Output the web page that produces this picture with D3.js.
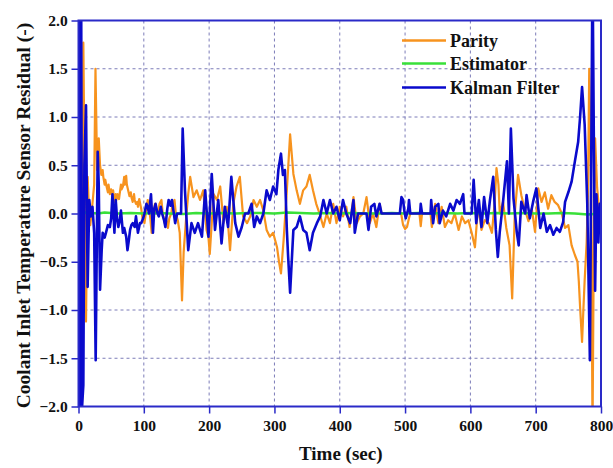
<!DOCTYPE html>
<html><head><meta charset="utf-8">
<script src="https://cdn.jsdelivr.net/npm/d3@7"></script>
<style>body{margin:0;background:#fff}svg{display:block}</style>
</head><body>
<svg id="c" width="613" height="468"></svg>
<script>
const xTicks = [0,100,200,300,400,500,600,700,800];
const yTicks = [-2.0,-1.5,-1.0,-0.5,0.0,0.5,1.0,1.5,2.0];
const seriesNames = ["Parity","Estimator","Kalman Filter"];
const seriesColors = ["#F7931E","#39E039","#0A0ACC"];

const parityTime = [1,3,5,7.4,9.5,11.5,14,16,18,20,22,24,26,28.5,31,33,35,37,38,40,41,43,45,46,48,50,52,53,55,57,58,60,62,63,65,66,68,70,71,73,74,76,78,80,81,83,85,86,88,90,91,93,96,98,101,103,106,108,110,112,114,117,119,122,124,127,129,132,134,137,139,142,144,147,149,152,155,158.5,161,165,168,171,176,181,186,191,196,199,201,204,207,212,217,222,227,232,237,242,247,252,258,263,268,273,278,283,288,293,298,304,307,310,314,319,324,329,334,339,344,349,354,359,364,369,375,380,385,390,395,400,405,410,415,421,426,431,436,441,446,451,456,461,464,494,497,500,503,506,508,522,524,526,539,541,546,551,556,561,566,571,576,582,587,592,597,602,607,612,617,622,628,633,637,640,643,645,650,655,660,664,668,673,678,683,689,694,699,704,709,714,719,724,729,734,740,745,750,755,760,764,766,768,771,773,775,778,780,782,785,787,789,791,794,797,800];
const parityValue = [-0.5,-2.3,-2.6,1.77,0.3,-1.12,0.38,0.05,-0.12,0.0,0.15,0.3,1.5,0.45,0.78,0.5,0.4,0.45,0.38,0.3,0.35,0.28,0.22,0.3,0.2,0.25,0.18,0.24,0.12,0.2,0.14,0.2,0.15,0.2,0.3,0.25,0.28,0.38,0.3,0.39,0.3,0.24,0.18,0.22,0.17,0.12,0.2,0.14,0.1,0.12,0.07,0.15,0.05,-0.05,-0.1,0.0,0.14,0.05,-0.05,-0.2,-0.05,0.1,0.0,0.03,0.1,0.14,0.0,-0.1,-0.05,-0.15,-0.05,0.0,0.1,0.14,0.0,-0.07,-0.2,-0.9,-0.4,-0.03,0.2,0.38,0.17,0.24,0.14,0.24,-0.17,-0.25,-0.42,-0.1,0.2,0.14,0.28,-0.1,0.07,-0.38,0.1,0.28,0.38,-0.03,-0.1,-0.03,0.14,0.07,0.14,0.03,-0.17,-0.24,-0.2,-0.35,-0.5,-0.62,-0.28,0.24,0.82,0.41,0.24,0.1,0.24,0.28,0.4,0.24,0.1,0.0,-0.14,0.0,-0.1,0.1,-0.1,0.07,-0.03,0.07,-0.14,0.17,-0.1,-0.03,0.0,0.17,-0.1,0.0,-0.14,0.1,0.0,0.0,-0.12,-0.16,-0.14,-0.05,0.0,0.0,-0.13,0.0,0.0,-0.14,0.1,-0.1,0.07,-0.14,-0.07,-0.1,0.0,-0.17,-0.03,-0.1,-0.07,-0.2,-0.35,0.1,-0.17,-0.07,-0.1,-0.2,0.1,0.47,0.3,0.0,0.12,-0.15,-0.33,-0.88,0.0,0.4,0.19,0.05,-0.08,0.05,-0.19,0.26,0.12,0.22,0.05,0.19,0.12,0.09,0.0,-0.15,-0.12,-0.33,-0.43,-0.5,-0.7,-0.97,-1.33,-1.0,-0.69,-0.3,0.2,1.5,0.2,-2.3,-0.3,0.78,0.27,0.05,0.0];

const estimatorTime = [0,10,20,30,40,50,60,80,100,120,140,160,180,200,220,240,260,280,300,320,340,360,380,400,420,440,460,480,500,520,540,560,580,600,620,640,660,680,700,720,740,760,770,780,790,800];
const estimatorValue = [0.0,0.01,0.005,0.0,0.01,0.005,0.0,0.005,0.0,0.005,0.0,-0.005,0.005,0.0,0.005,0.0,0.005,0.005,0.0,0.01,0.005,0.0,0.005,0.0,0.005,0.0,0.0,0.005,0.0,0.005,0.0,0.005,0.0,0.005,0.0,0.005,0.0,0.005,0.0,0.0,0.005,0.0,-0.005,-0.01,-0.005,0.0];

const kalmanTime = [0,1,2.5,4,5.5,7.4,9,11.5,14,16.5,19,21.4,24,26.3,29.4,31,33,35.5,37,40,42,45,48,50,52,55,57,59,61,63,65,68,70,73,75,77,79,81,83,86,88,91,94,96,99,101,104,106,108,111,114,116,118,121,123,126,128,131,133,136,138,141,143,146,148,151,157,159.5,163,168,173,178,183,189,194,199,204,209,214,219,224,229,234,240,245,250,255,260,265,269,273,278,283,288,293,298,303,306,310,313,316,319,321,324,329,334,339,344,349,354,359,365,370,375,380,385,390,395,400,405,410,416,421,423,428,441,444,448,453,456,461,464,492,494.5,497,499,501,503,505,506,508,523,524,526,539,540,543,546,551,553,558,563,569,574,579,584,589,591,602,605,609,613,617,621,626,630,635,639,642,645,650,656,659,662,666,671,674,678,684,686,691,696,701,707,712,717,722,727,732,737,742,745,750,755,760,765,768,771,775,779,783,785,787,789,791,793,796,798,800];
const kalmanValue = [0.0,2.6,-2.6,2.6,-2.0,-1.78,0.5,1.12,-0.76,0.14,-0.03,0.07,-0.2,-1.52,0.64,0.3,-0.79,-0.38,-0.2,-0.25,-0.2,-0.12,-0.14,-0.05,0.2,-0.2,0.14,-0.05,-0.14,-0.08,0.03,-0.2,-0.15,-0.24,-0.38,-0.28,-0.17,-0.12,-0.1,-0.14,-0.03,-0.2,-0.1,-0.1,-0.05,0.0,0.1,0.07,0.0,0.2,-0.2,0.05,0.1,0.0,-0.03,0.07,0.0,-0.07,-0.14,0.05,0.14,0.08,0.14,0.0,-0.1,0.0,0.0,0.88,0.24,-0.38,-0.1,-0.2,-0.1,-0.24,0.24,-0.24,0.41,-0.17,0.14,-0.31,0.07,-0.14,0.38,-0.1,-0.24,-0.14,0.0,0.0,0.1,-0.14,-0.03,-0.1,0.0,0.24,0.14,0.28,0.2,0.45,0.62,0.4,0.45,-0.17,-0.45,-0.82,-0.17,-0.14,-0.03,-0.17,-0.2,-0.38,-0.2,-0.1,-0.03,0.14,0.0,0.14,0.0,0.07,-0.07,0.14,0.0,-0.1,0.14,-0.2,0.0,0.0,-0.17,0.07,0.1,-0.03,0.1,0.0,0.0,0.17,0.14,0.02,-0.05,0.0,0.05,0.14,0.0,0.0,0.1,0.0,0.0,0.14,-0.1,0.07,0.1,-0.1,0.03,-0.03,0.1,0.03,0.14,0.1,0.2,0.0,0.0,0.35,-0.1,0.14,-0.14,0.17,-0.1,0.14,0.38,-0.17,-0.45,-0.19,0.12,0.54,0.0,0.88,0.16,-0.19,-0.33,0.12,0.0,0.19,-0.05,0.12,0.26,-0.15,0.0,-0.19,-0.12,-0.22,-0.15,-0.19,-0.09,0.12,0.22,0.33,0.54,0.74,1.0,1.31,0.92,0.1,-1.52,0.5,2.6,0.8,-0.8,0.2,-0.3,0.1,-0.05];

const W = 613, H = 468;
const m = {l: 78.5, r: 601, t: 20.5, b: 406.5};
const svg = d3.select("#c");
const x = d3.scaleLinear().domain([0,800]).range([m.l, m.r]);
const y = d3.scaleLinear().domain([-2,2]).range([m.b, m.t]);
const frameColor = "#2A2AC8";
const gridColor = "#7C7CB8";
const serif = "'Liberation Serif','Times New Roman',serif";

const g = svg.append("g");
g.selectAll("line.vg").data(xTicks.slice(1,-1)).join("line")
  .attr("x1", d=>x(d)).attr("x2", d=>x(d)).attr("y1", m.t).attr("y2", m.b)
  .attr("stroke", gridColor).attr("stroke-width", 1).attr("stroke-dasharray", "3,3");
g.selectAll("line.hg").data(yTicks.slice(1,-1)).join("line")
  .attr("y1", d=>y(d)).attr("y2", d=>y(d)).attr("x1", m.l).attr("x2", m.r)
  .attr("stroke", gridColor).attr("stroke-width", 1).attr("stroke-dasharray", "3,3");

svg.append("clipPath").attr("id","clip").append("rect")
  .attr("x", m.l).attr("y", m.t).attr("width", m.r-m.l).attr("height", m.b-m.t);

const line = d3.line().x(d=>x(d[0])).y(d=>y(d[1]));
const series = [
  d3.zip(parityTime, parityValue),
  d3.zip(estimatorTime, estimatorValue),
  d3.zip(kalmanTime, kalmanValue)
];
const widths = [2.2, 2.6, 2.6];
const pg = svg.append("g").attr("clip-path","url(#clip)");
series.forEach((s,i)=>{
  pg.append("path").datum(s).attr("d", line).attr("fill","none")
    .attr("stroke", seriesColors[i]).attr("stroke-width", widths[i])
    .attr("stroke-linejoin","round");
});

const xAxis = d3.axisBottom(x).tickValues(xTicks).tickFormat(d3.format("d")).tickSize(7).tickSizeOuter(0);
const yAxis = d3.axisLeft(y).tickValues(yTicks).tickFormat(d3.format(".1f")).tickSize(7).tickSizeOuter(0);
const gx = svg.append("g").attr("transform", `translate(0,${m.b})`).call(xAxis);
const gy = svg.append("g").attr("transform", `translate(${m.l},0)`).call(yAxis);
[gx, gy].forEach(a=>{
  a.select(".domain").remove();
  a.selectAll(".tick line").attr("stroke", frameColor).attr("stroke-width", 1.5);
  a.selectAll(".tick text").attr("font-family", serif).attr("font-weight","bold")
    .attr("font-size", 15.5).attr("fill","#111");
});
gx.selectAll(".tick text").attr("dy", "0.95em");
gy.selectAll(".tick text").attr("dx", "-0.05em");

svg.append("rect").attr("x", m.l).attr("y", m.t).attr("width", m.r-m.l).attr("height", m.b-m.t)
  .attr("fill","none").attr("stroke", frameColor).attr("stroke-width", 2);

svg.append("text").attr("x", (m.l+m.r)/2 + 1).attr("y", 460).attr("text-anchor","middle")
  .attr("font-family", serif).attr("font-weight","bold").attr("font-size", 19).attr("fill","#111")
  .text("Time (sec)");
svg.append("text").attr("transform", `translate(30,${(m.t+m.b)/2 + 2}) rotate(-90)`)
  .attr("text-anchor","middle")
  .attr("font-family", serif).attr("font-weight","bold").attr("font-size", 19.5).attr("fill","#111")
  .text("Coolant Inlet Temperature Sensor Residual (-)");

const lg = svg.append("g");
const legY = [40.5, 63.5, 87.5];
seriesNames.forEach((n,i)=>{
  lg.append("line").attr("x1", 402).attr("x2", 446).attr("y1", legY[i]).attr("y2", legY[i])
    .attr("stroke", seriesColors[i]).attr("stroke-width", 2.6);
  lg.append("text").attr("x", 450).attr("y", legY[i] + 6).attr("font-family", serif)
    .attr("font-weight","bold").attr("font-size", 18).attr("fill","#111").text(n);
});
</script>
</body></html>
